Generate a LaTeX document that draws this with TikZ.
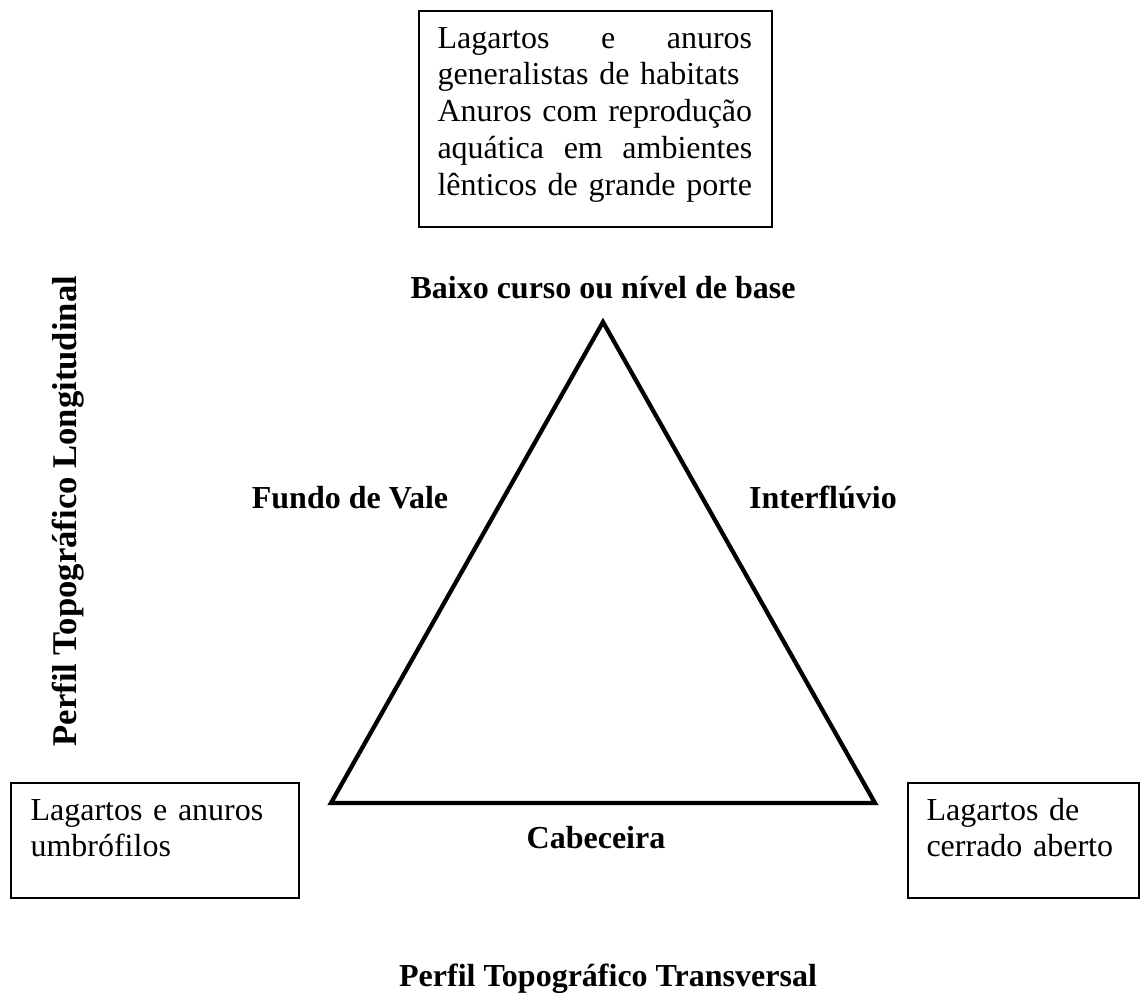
\documentclass[tikz,border=0pt]{standalone}
\usepackage{fontspec}
\setmainfont{Liberation Serif}
\newcommand{\jline}[1]{\makebox[118pt][l]{#1}}
\begin{document}
\begin{tikzpicture}[x=0.375pt,y=-0.375pt,
  every node/.style={font=\fontsize{12pt}{13.8pt}\selectfont, inner sep=0pt},
  tbox/.style={draw, line width=0.75pt, anchor=north west, inner sep=0pt},
  boxtext/.style={anchor=base west, text width=#1, align=left},
  lbl/.style={font=\fontsize{12pt}{13.8pt}\selectfont\bfseries, anchor=base},
  tri/.style={line width=1.6pt, line join=miter}]
\useasboundingbox (0,0) rectangle (1141,999);
% top box
\node[tbox, minimum width=132.4pt, minimum height=81pt] (topbox) at (418,10) {};
\node[boxtext=118pt] (toptext) at (437,48) {%
\jline{Lagartos\hfill e\hfill anuros}\\
\jline{generalistas de habitats}\\
\jline{Anuros\hfill com\hfill reprodução}\\
\jline{aquática\hfill em\hfill ambientes}\\
\jline{lênticos de grande porte}};
% side boxes
\node[tbox, minimum width=108pt, minimum height=43pt] (leftbox) at (10,782) {};
\node[boxtext=95pt] (lefttext) at (30,820) {Lagartos e anuros\\umbrófilos};
\node[tbox, minimum width=86.6pt, minimum height=43pt] (rightbox) at (907,782) {};
\node[boxtext=75pt] (righttext) at (926,820) {Lagartos de\\cerrado aberto};
% triangle
\coordinate (apex) at (603,322);
\coordinate (bl) at (331,803);
\coordinate (br) at (875,803);
\draw[tri] (apex) -- (bl) -- (br) -- cycle;
% labels
\node[lbl] (baixo) at (603,298) {Baixo curso ou nível de base};
\node[lbl] (fundo) at (350,508) {Fundo de Vale};
\node[lbl] (inter) at (823,508) {Interflúvio};
\node[lbl] (cab) at (596,848) {Cabeceira};
\node[lbl] (transv) at (608,986) {Perfil Topográfico Transversal};
\node[lbl, font=\fontsize{13pt}{15pt}\selectfont\bfseries, anchor=base west, rotate=90] (longit) at (77,747) {Perfil Topográfico Longitudinal};
\end{tikzpicture}
\end{document}
